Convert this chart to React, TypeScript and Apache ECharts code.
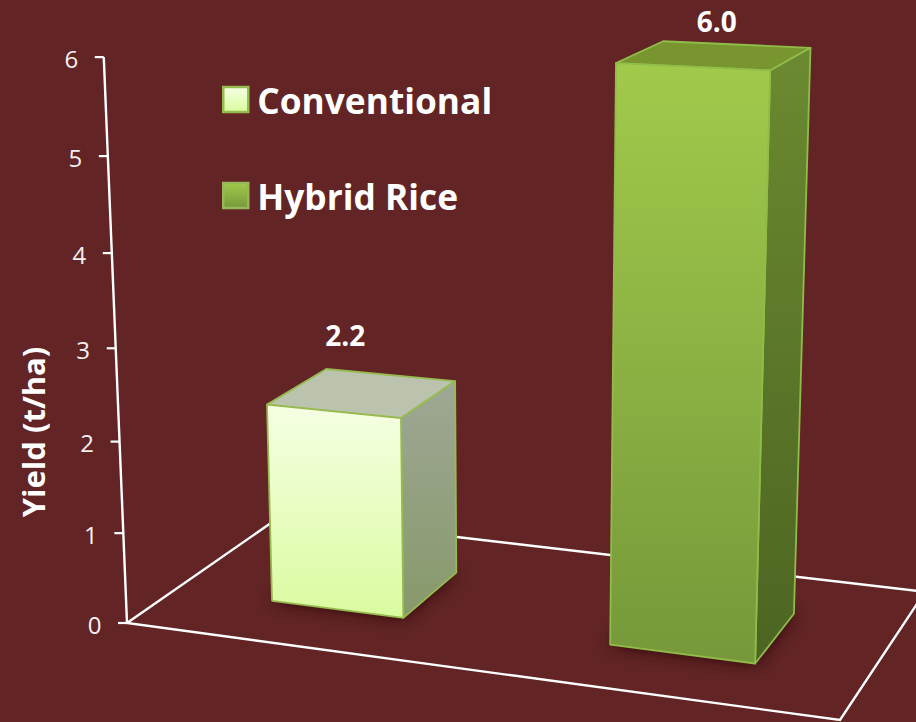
import React, { useEffect, useRef } from "react";
import * as echarts from "echarts";

const categories = ["Conventional", "Hybrid Rice"];
const yieldValues = [2.2, 6.0];
const yTicks = [0, 1, 2, 3, 4, 5, 6];
const yAxisMax = 6;
const axisTitle = "Yield (t/ha)";

// Floor quad of the 3D scene on screen: front-left, front-right, back-right, back-left.
const floorQuad = [[127, 623], [840, 720], [925, 591.8], [280.6, 516.3]];
// Projected vertical direction of the camera (per unit of yield).
const verticalColumn = { x: -4.848, y: -94.85, w: -0.0094 };
// Share of a category band taken by a bar, and the depth span of the bars on the floor.
const barBandShare = 0.4;
const depthSpan = [0.3, 0.7];

const FONT = "'Open Sans', sans-serif";
const BG = "#622425";

const [p0, p1, p2, p3] = floorQuad;
const dx1 = p1[0] - p2[0];
const dy1 = p1[1] - p2[1];
const dx2 = p3[0] - p2[0];
const dy2 = p3[1] - p2[1];
const sx = p0[0] - p1[0] + p2[0] - p3[0];
const sy = p0[1] - p1[1] + p2[1] - p3[1];
const det = dx1 * dy2 - dx2 * dy1;
const wX = (sx * dy2 - dx2 * sy) / det;
const wZ = (dx1 * sy - sx * dy1) / det;
const aX = p1[0] - p0[0] + wX * p1[0];
const aZ = p3[0] - p0[0] + wZ * p3[0];
const bX = p1[1] - p0[1] + wX * p1[1];
const bZ = p3[1] - p0[1] + wZ * p3[1];

// X and Z run 0..1 across the floor, Y is in yield units.
function project(X: number, Y: number, Z: number): number[] {
  const w = wX * X + verticalColumn.w * Y + wZ * Z + 1;
  return [
    (aX * X + verticalColumn.x * Y + aZ * Z + p0[0]) / w,
    (bX * X + verticalColumn.y * Y + bZ * Z + p0[1]) / w,
  ];
}

const vGrad = (top: string, bottom: string) =>
  new echarts.graphic.LinearGradient(0, 0, 0, 1, [
    { offset: 0, color: top },
    { offset: 1, color: bottom },
  ]);

const barStyles = [
  {
    front: vGrad("#F5FFE3", "#DAFB9F"),
    side: vGrad("#9FA795", "#87996A"),
    top: "#BBC2AE",
    stroke: "#96BB4E",
    label: [-17, -58],
  },
  {
    front: vGrad("#A1CA4B", "#76983A"),
    side: vGrad("#6B8A30", "#4C6422"),
    top: "#78952F",
    stroke: "#90BC49",
    label: [2, -34],
  },
];

// Reads a data item's position through the cartesian scales and turns it into scene units.
function toScene(api: any, params: any, cat: number, value: number) {
  const cs = params.coordSys;
  const pt = api.coord([cat, value]);
  return {
    X: (pt[0] - cs.x) / cs.width,
    Y: ((cs.y + cs.height - pt[1]) / cs.height) * yAxisMax,
    halfX: (api.size([1, 0])[0] * barBandShare) / 2 / cs.width,
  };
}

const renderBar = (params: any, api: any) => {
  const cat = api.value(0);
  const value = api.value(1);
  const { X, Y, halfX } = toScene(api, params, cat, value);
  const [zF, zB] = depthSpan;
  const xL = X - halfX;
  const xR = X + halfX;
  const s = barStyles[cat];
  const lineStyle = { stroke: s.stroke, lineWidth: 1.8, lineJoin: "round" };
  const poly = (points: number[][], fill: any, extra: any = lineStyle) => ({
    type: "polygon",
    shape: { points },
    style: { fill, ...extra },
  });
  const anchor = project(X, Y, 0.5);
  return {
    type: "group",
    children: [
      poly(
        [project(xL, 0, zF), project(xR, 0, zF), project(xR, 0, zB), project(xL, 0, zB)],
        "#3A1013",
        { stroke: "none", shadowBlur: 16, shadowColor: "rgba(35,5,8,0.95)" }
      ),
      poly([project(xL, Y, zF), project(xR, Y, zF), project(xR, Y, zB), project(xL, Y, zB)], s.top),
      poly([project(xR, 0, zF), project(xR, 0, zB), project(xR, Y, zB), project(xR, Y, zF)], s.side),
      poly([project(xL, 0, zF), project(xR, 0, zF), project(xR, Y, zF), project(xL, Y, zF)], s.front),
      {
        type: "text",
        style: {
          text: value.toFixed(1),
          x: anchor[0] + s.label[0],
          y: anchor[1] + s.label[1],
          fill: "#FFFFFF",
          fontFamily: FONT,
          fontWeight: "bold",
          fontSize: 28,
          align: "center",
          verticalAlign: "middle",
        },
      },
    ],
  };
};

const renderFrame = () => {
  const line = { stroke: "#FFFFFF", lineWidth: 2.4, fill: "none" };
  const corner = (X: number, Z: number) => project(X, 0, Z);
  return {
    type: "group",
    children: [
      {
        type: "polyline",
        shape: { points: [corner(0, 1), corner(0, 0), corner(1, 0), corner(1, 1), corner(0, 1)] },
        style: line,
      },
      {
        type: "line",
        shape: (() => {
          const a = project(0, 0, 0);
          const b = project(0, yAxisMax, 0);
          return { x1: a[0], y1: a[1], x2: b[0], y2: b[1] };
        })(),
        style: line,
      },
    ],
  };
};

const renderTick = (params: any, api: any) => {
  const { Y } = toScene(api, params, 0, api.value(1));
  const pt = project(0, Y, 0);
  return {
    type: "group",
    children: [
      {
        type: "line",
        shape: { x1: pt[0] - 9, y1: pt[1], x2: pt[0], y2: pt[1] },
        style: { stroke: "#FFFFFF", lineWidth: 2.2 },
      },
      {
        type: "text",
        style: {
          text: String(api.value(1)),
          x: pt[0] - 32.5,
          y: pt[1] + 1,
          fill: "#F7F1F1",
          fontFamily: FONT,
          fontSize: 24,
          align: "center",
          verticalAlign: "middle",
        },
      },
    ],
  };
};

export default function App() {
  const ref = useRef<HTMLDivElement>(null);

  useEffect(() => {
    document.body.style.margin = "0";
    document.body.style.background = BG;
    const chart = echarts.init(ref.current!, null, { renderer: "svg" });
    chart.setOption({
      animation: false,
      backgroundColor: BG,
      grid: { left: 100, top: 50, width: 700, height: 600 },
      xAxis: { type: "category", data: categories, show: false },
      yAxis: { type: "value", min: 0, max: yAxisMax, interval: 1, show: false },
      legend: {
        orient: "vertical",
        left: 217,
        top: 77,
        itemWidth: 25,
        itemHeight: 25,
        itemGap: 61,
        selectedMode: false,
        textStyle: {
          color: "#FFFFFF",
          fontFamily: FONT,
          fontWeight: "bold",
          fontSize: 35.3,
          padding: [0, 0, 4, 4],
        },
        data: [
          {
            name: categories[0],
            icon: "rect",
            itemStyle: { color: vGrad("#F5FFE3", "#DAFB9F"), borderColor: "#96BB4E", borderWidth: 2.5 },
          },
          {
            name: categories[1],
            icon: "rect",
            itemStyle: { color: vGrad("#A1CA4B", "#76983A"), borderColor: "#96B85A", borderWidth: 2.5 },
          },
        ],
      },
      graphic: [
        {
          type: "text",
          x: 33,
          y: 432,
          rotation: Math.PI / 2,
          style: {
            text: axisTitle,
            fill: "#FFFFFF",
            fontFamily: FONT,
            fontWeight: "bold",
            fontSize: 31,
            align: "center",
            verticalAlign: "middle",
          },
        },
      ],
      series: [
        { type: "custom", name: "frame", z: 1, silent: true, renderItem: renderFrame, data: [[0, 0]] },
        {
          type: "custom",
          name: "ticks",
          z: 1,
          silent: true,
          renderItem: renderTick,
          data: yTicks.map((t) => [0, t]),
        },
        ...categories.map((name, i) => ({
          type: "custom",
          name,
          z: 2,
          renderItem: renderBar,
          encode: { x: 0, y: 1 },
          data: [[i, yieldValues[i]]],
        })),
      ],
    });
    return () => chart.dispose();
  }, []);

  return <div ref={ref} style={{ width: 916, height: 722 }} />;
}
